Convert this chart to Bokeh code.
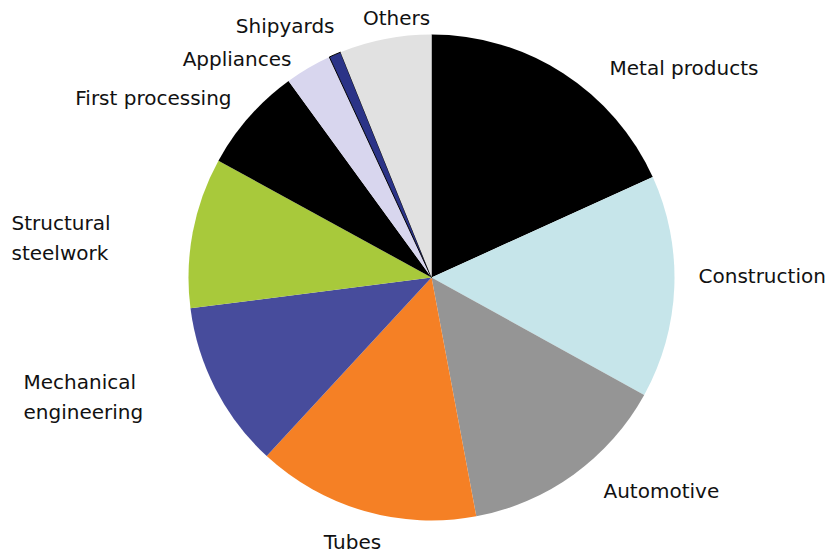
import math
from bokeh.plotting import figure
from bokeh.models import ColumnDataSource, Range1d
from bokeh.core.properties import value
from bokeh.embed import file_html
from bokeh.resources import INLINE

# ---- data ----
categories = ["Metal products", "Construction", "Automotive", "Tubes",
              "Mechanical engineering", "Structural steelwork", "First processing",
              "Appliances", "Shipyards", "Others"]
shares = [18.2, 14.8, 14.0, 14.8, 11.1, 10.0, 7.0, 3.1, 0.8, 6.1]
colors = ["#000000", "#c6e5ea", "#959595", "#f58025", "#474c9c",
          "#a8c93b", "#000000", "#d8d6ee", "#2b3387", "#e1e1e1"]
label_texts = ["Metal products", "Construction", "Automotive", "Tubes",
               "Mechanical\nengineering", "Structural\nsteelwork", "First processing",
               "Appliances", "Shipyards", "Others"]

# ---- layout ----
W, H = 828, 553
CX, CY_PX, R = 431, 277, 243
# label anchor (x px, y px from top), alignment
label_layout = [
    (609, 67, "left"),
    (698, 275, "left"),
    (603, 490, "left"),
    (352, 541, "center"),
    (23, 396, "left"),
    (11, 237, "left"),
    (231, 97, "right"),
    (291, 58, "right"),
    (334, 25, "right"),
    (396, 17, "center"),
]

total = sum(shares)
starts, ends = [], []
cum = 0.0
for s in shares:
    starts.append(math.pi / 2 - 2 * math.pi * cum / total)
    cum += s
    ends.append(math.pi / 2 - 2 * math.pi * cum / total)

line_alpha = [1.0 if c == "Shipyards" else 0.0 for c in categories]

src = ColumnDataSource(dict(cat=categories, start=starts, end=ends,
                            color=colors, la=line_alpha))

p = figure(width=W, height=H, output_backend="svg", toolbar_location=None,
           x_range=Range1d(0, W), y_range=Range1d(0, H), min_border=0)
p.axis.visible = False
p.grid.visible = False
p.outline_line_color = None
p.background_fill_color = "white"
p.border_fill_color = "white"

p.wedge(x=CX, y=H - CY_PX, radius=R, start_angle="start", end_angle="end",
        direction="clock", fill_color="color", line_color="#000000",
        line_alpha="la", line_width=1, source=src)

for txt, (lx, ly, al) in zip(label_texts, label_layout):
    p.text(x=[lx], y=[H - ly], text=[txt], text_align=al, text_baseline="middle",
           text_font=value("DejaVu Sans"), text_font_size="20px",
           text_color="#111111", text_line_height=1.25)

open("out.html", "w").write(file_html(p, INLINE))
